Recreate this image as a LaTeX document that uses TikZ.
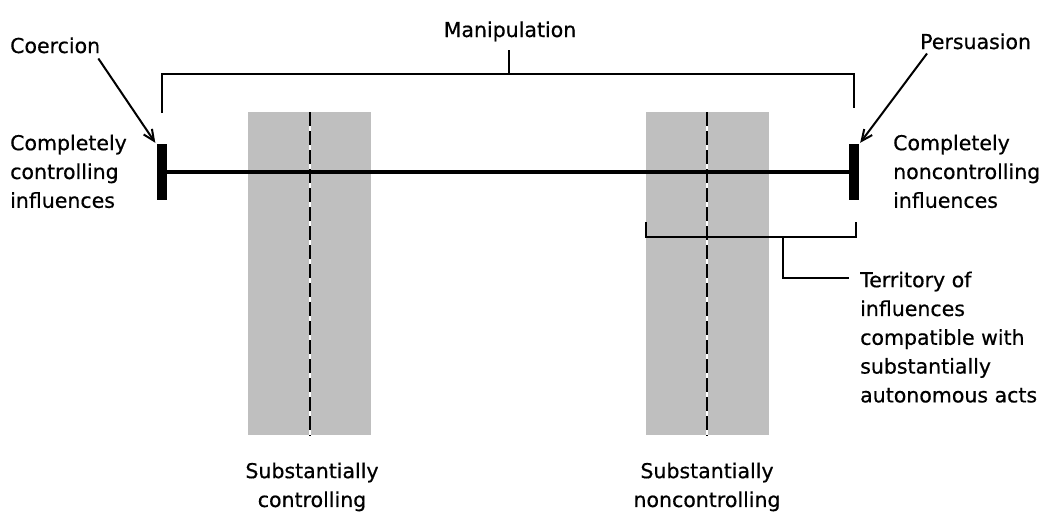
\documentclass[tikz,border=0pt]{standalone}
\usepackage{fontspec}
\setmainfont[FakeBold=0.6]{DejaVu Sans}
\usetikzlibrary{arrows.meta}
\begin{document}
\begin{tikzpicture}[x=1pt,y=-1pt,
  lbl/.style={inner sep=0pt, font=\fontsize{20.5}{28.8}\selectfont},
  shadebox/.style={fill=black!25, draw=none, inner sep=0pt, minimum width=123pt, minimum height=323pt, anchor=north west},
  bar/.style={fill=black, draw=none, inner sep=0pt, minimum width=10pt, minimum height=56pt},
  brk/.style={line width=2.3pt},
  mainline/.style={line width=3.6pt},
  arr/.style={line width=2pt, -{Straight Barb[length=11pt,width=10pt,line width=2pt]}},
  dashwhite/.style={white, line width=2.8pt},
  dashblack/.style={black, line width=2.8pt, dash pattern=on 14pt off 5pt},
]
\useasboundingbox (0,0) rectangle (1046,514);

% shaded regions
\node[shadebox] (s1) at (248,112) {};
\node[shadebox] (s2) at (646,112) {};
\coordinate (d1t) at (310,112);
\coordinate (d1b) at (310,436);
\coordinate (d2t) at (707,112);
\coordinate (d2b) at (707,436);
\draw[dashwhite] (d1t) -- (d1b);
\draw[dashblack] (d1t) -- (d1b);
\draw[dashwhite] (d2t) -- (d2b);
\draw[dashblack] (d2t) -- (d2b);

% main line and end bars
\node[bar] (lb) at (161.5,172) {};
\node[bar] (rb) at (854,172) {};
\draw[mainline] (lb.center) -- (rb.center);

% top bracket
\coordinate (tl) at (162,113);
\coordinate (tr) at (854,108);
\coordinate (tm) at (509,74);
\coordinate (tmt) at (509,50);
\draw[brk] (tl) -- (162,74) -- (854,74) -- (tr);
\draw[brk] (tm) -- (tmt);
\node[lbl, anchor=base] (manip) at (510,37) {Manipulation};

% coercion / persuasion
\node[lbl, anchor=base west] (co) at (10,53) {Coercion};
\node[lbl, anchor=base west] (pe) at (920,49) {Persuasion};
\draw[arr] ([shift={(-2,5)}]co.south east) -- ([shift={(-1,-1)}]lb.north west);
\draw[arr] ([shift={(7,4)}]pe.south west) -- ([shift={(1,-1)}]rb.north east);

% side labels
\node[lbl, align=left, anchor=north west] (ccl) at (10,134.4) {Completely\\controlling\\influences};
\node[lbl, align=left, anchor=north west] (cnc) at (893,134.4) {Completely\\noncontrolling\\influences};

% lower bracket
\coordinate (bl) at (646,222);
\coordinate (br) at (856,222);
\coordinate (bm) at (783,237);
\coordinate (bs) at (849,278);
\draw[brk] (bl) -- (646,237) -- (856,237) -- (br);
\draw[brk] (bm) -- (783,278) -- (bs);
\node[lbl, align=left, anchor=north west] (terr) at (860,271.4) {Territory of\\influences\\compatible with\\substantially\\autonomous acts};

% bottom labels
\node[lbl, align=center, anchor=north] (sc) at (312,462.4) {Substantially\\controlling};
\node[lbl, align=center, anchor=north] (snc) at (707,462.4) {Substantially\\noncontrolling};
\end{tikzpicture}
\end{document}
